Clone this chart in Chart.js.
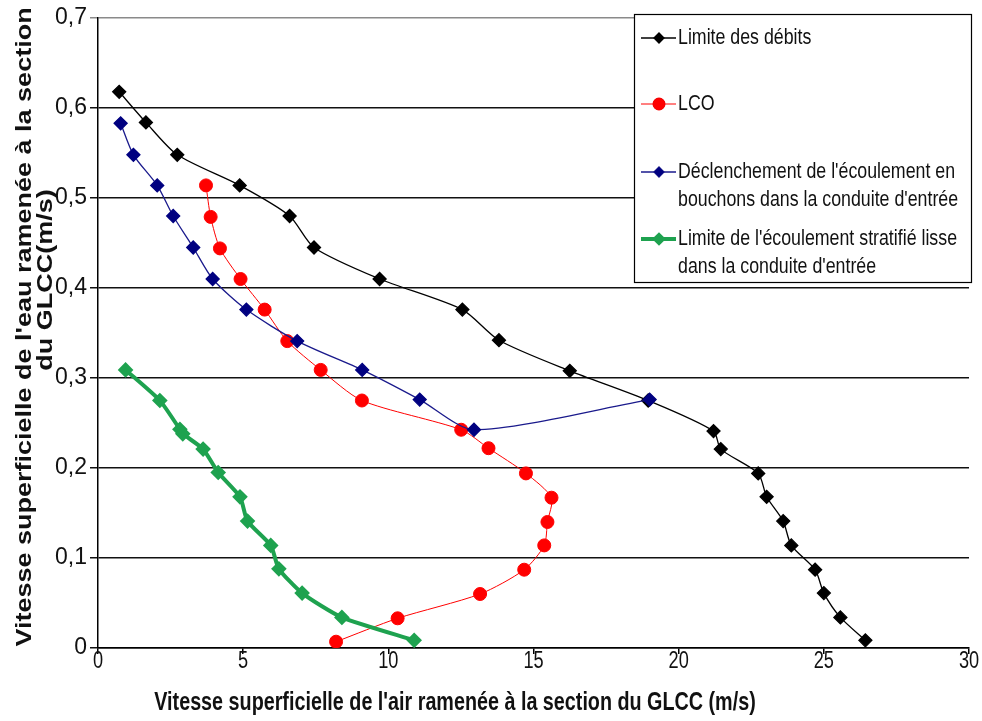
<!DOCTYPE html>
<html>
<head>
<meta charset="utf-8">
<script src="https://cdn.jsdelivr.net/npm/chart.js@4"></script>
<style>
  html, body { margin: 0; padding: 0; background: #fff; }
  #wrap { width: 982px; height: 721px; }
</style>
</head>
<body>
<div id="wrap"><canvas id="chart" width="982" height="721"></canvas></div>
<script>
// #### Data
const debitsX = [0.73, 1.65, 2.73, 4.88, 6.6, 7.44, 9.7, 12.55, 13.81, 16.25, 18.95, 21.2, 21.45, 22.74, 23.03, 23.6, 23.88, 24.7, 25.0, 25.57, 26.43]
const debitsY = [0.618, 0.584, 0.548, 0.514, 0.48, 0.445, 0.41, 0.376, 0.342, 0.308, 0.275, 0.241, 0.221, 0.194, 0.168, 0.141, 0.114, 0.087, 0.061, 0.034, 0.0085]

const lcoX = [3.72, 3.88, 4.2, 4.91, 5.74, 6.52, 7.67, 9.09, 12.51, 13.45, 14.74, 15.62, 15.48, 15.37, 14.68, 13.16, 10.32, 8.2]
const lcoY = [0.514, 0.479, 0.444, 0.41, 0.376, 0.341, 0.309, 0.275, 0.2425, 0.222, 0.194, 0.167, 0.14, 0.114, 0.087, 0.06, 0.033, 0.007]

const bouchonsX = [0.78, 1.22, 2.04, 2.59, 3.28, 3.95, 5.11, 6.86, 9.1, 11.08, 12.95, 19.0]
const bouchonsY = [0.583, 0.548, 0.514, 0.48, 0.445, 0.41, 0.376, 0.341, 0.309, 0.276, 0.2425, 0.276]

const stratifieX = [0.95, 2.13, 2.82, 2.92, 3.62, 4.14, 4.89, 5.15, 5.95, 6.23, 7.03, 8.4, 10.89]
const stratifieY = [0.309, 0.275, 0.243, 0.238, 0.221, 0.195, 0.168, 0.141, 0.114, 0.088, 0.061, 0.034, 0.0085]

const xTicks = [0, 5, 10, 15, 20, 25, 30]
const yTicks = [0, 0.1, 0.2, 0.3, 0.4, 0.5, 0.6, 0.7]

const seriesLabels = [
    ["Limite des débits"],
    ["LCO"],
    ["Déclenchement de l'écoulement en", "bouchons dans la conduite d'entrée"],
    ["Limite de l'écoulement stratifié lisse", "dans la conduite d'entrée"]
]
const xTitle = "Vitesse superficielle de l'air ramenée à la section du GLCC (m/s)"
const yTitle = ["Vitesse superficielle de l'eau ramenée à la section", "du GLCC(m/s)"]

const SANS = "'Liberation Sans', Arial, sans-serif"
const SQUEEZE = 0.79   // the reference is squeezed horizontally

function toPoints(xs, ys) {
    return xs.map((x, i) => ({ x: x, y: ys[i] }))
}

function squeezedText(ctx, text, x, y, font, align) {
    ctx.save()
    ctx.translate(x, y)
    ctx.scale(SQUEEZE, 1)
    ctx.font = font
    ctx.fillStyle = '#111'
    ctx.textAlign = align
    ctx.textBaseline = 'middle'
    ctx.fillText(text, 0, 0)
    ctx.restore()
}

// #### Legend, x tick labels and axis titles, drawn on top
const decorPlugin = {
    id: 'decor',
    afterDraw(chart) {
        const ctx = chart.ctx
        const sets = chart.data.datasets
        ctx.save()

        // x tick labels (squeezed like the rest of the picture)
        const xs = chart.scales.x
        xTicks.forEach(v => {
            squeezedText(ctx, String(v), xs.getPixelForValue(v), 662, '23px ' + SANS, 'center')
        })

        // legend box
        ctx.fillStyle = '#fff'
        ctx.fillRect(634, 14, 338, 269)
        ctx.strokeStyle = '#000'
        ctx.lineWidth = 1.2
        ctx.strokeRect(634.5, 14.5, 337, 268)

        const rows = [38, 104, 172, 239]
        sets.forEach((ds, i) => {
            const y = rows[i]
            ctx.strokeStyle = ds.borderColor
            ctx.lineWidth = ds.borderWidth
            ctx.beginPath()
            ctx.moveTo(641, y)
            ctx.lineTo(676, y)
            ctx.stroke()
            Chart.helpers.drawPoint(ctx, {
                pointStyle: ds.pointStyle,
                radius: ds.legendRadius,
                borderWidth: 1
            }, 659, y)
            ctx.fillStyle = ds.pointBackgroundColor
            ctx.strokeStyle = ds.pointBorderColor
            ctx.fill()

            seriesLabels[i].forEach((line, j) => {
                squeezedText(ctx, line, 678, y + j * 28, '22.5px ' + SANS, 'left')
            })
        })

        // x title
        squeezedText(ctx, xTitle, 455, 703, 'bold 25px ' + SANS, 'center')

        // y title, two lines (rotated, squeezed across the line)
        const yPos = [[25, 327], [46, 280]]
        yTitle.forEach((line, j) => {
            ctx.save()
            ctx.translate(yPos[j][0], yPos[j][1])
            ctx.rotate(-Math.PI / 2)
            ctx.scale(1, SQUEEZE)
            ctx.font = 'bold 27px ' + SANS
            ctx.fillStyle = '#111'
            ctx.textAlign = 'center'
            ctx.textBaseline = 'middle'
            ctx.fillText(line, 0, 0)
            ctx.restore()
        })

        ctx.restore()
    }
}

// #### Chart
const chart = new Chart(document.getElementById('chart').getContext('2d'), {
    type: 'scatter',
    data: {
        datasets: [
            {
                label: seriesLabels[0].join(' '),
                data: toPoints(debitsX, debitsY),
                showLine: true,
                borderColor: '#000',
                borderWidth: 1.3,
                pointStyle: 'rectRot',
                pointRadius: 6.5,
                legendRadius: 5,
                pointBackgroundColor: '#000',
                pointBorderColor: '#000',
                tension: 0.25,
                order: 4
            },
            {
                label: seriesLabels[1].join(' '),
                data: toPoints(lcoX, lcoY),
                showLine: true,
                borderColor: '#f00',
                borderWidth: 1,
                pointStyle: 'circle',
                pointRadius: 6.5,
                legendRadius: 6,
                pointBackgroundColor: '#f00',
                pointBorderColor: '#f00',
                tension: 0.25,
                order: 3
            },
            {
                label: seriesLabels[2].join(' '),
                data: toPoints(bouchonsX, bouchonsY),
                showLine: true,
                borderColor: '#1a1a8c',
                borderWidth: 1.3,
                pointStyle: 'rectRot',
                pointRadius: 6.5,
                legendRadius: 5,
                pointBackgroundColor: '#000080',
                pointBorderColor: '#000080',
                tension: 0.25,
                order: 2
            },
            {
                label: seriesLabels[3].join(' '),
                data: toPoints(stratifieX, stratifieY),
                showLine: true,
                borderColor: '#1ea24f',
                borderWidth: 4,
                pointStyle: 'rectRot',
                pointRadius: 5,
                legendRadius: 4,
                pointBackgroundColor: '#1ea24f',
                pointBorderColor: '#1ea24f',
                tension: 0.2,
                order: 1
            }
        ]
    },
    options: {
        responsive: false,
        animation: false,
        layout: { padding: { top: 18, right: 13, left: 0, bottom: 0 } },
        scales: {
            x: {
                type: 'linear',
                min: 0,
                max: 30,
                afterBuildTicks: scale => { scale.ticks = xTicks.map(v => ({ value: v })) },
                afterFit: scale => { scale.height = 73 },
                ticks: { display: false },
                grid: {
                    drawOnChartArea: false,
                    drawTicks: true,
                    tickLength: 6,
                    color: '#000',
                    lineWidth: 1.5
                },
                border: { color: '#000', width: 1.5 }
            },
            y: {
                type: 'linear',
                min: 0,
                max: 0.7,
                afterBuildTicks: scale => { scale.ticks = yTicks.map(v => ({ value: v })) },
                afterFit: scale => { scale.width = 98 },
                ticks: {
                    color: '#111',
                    padding: 3,
                    font: { family: SANS, size: 23 },
                    callback: v => v === 0 ? '0' : v.toFixed(1).replace('.', ',')
                },
                grid: {
                    drawTicks: true,
                    tickLength: 8,
                    color: ctx => ctx.tick && ctx.tick.value === 0.7 ? '#8a8a8a' : '#111',
                    lineWidth: 1.5
                },
                border: { color: '#000', width: 1.5 }
            }
        },
        plugins: {
            legend: { display: false },
            tooltip: { enabled: false }
        }
    },
    plugins: [decorPlugin]
})
</script>
</body>
</html>
